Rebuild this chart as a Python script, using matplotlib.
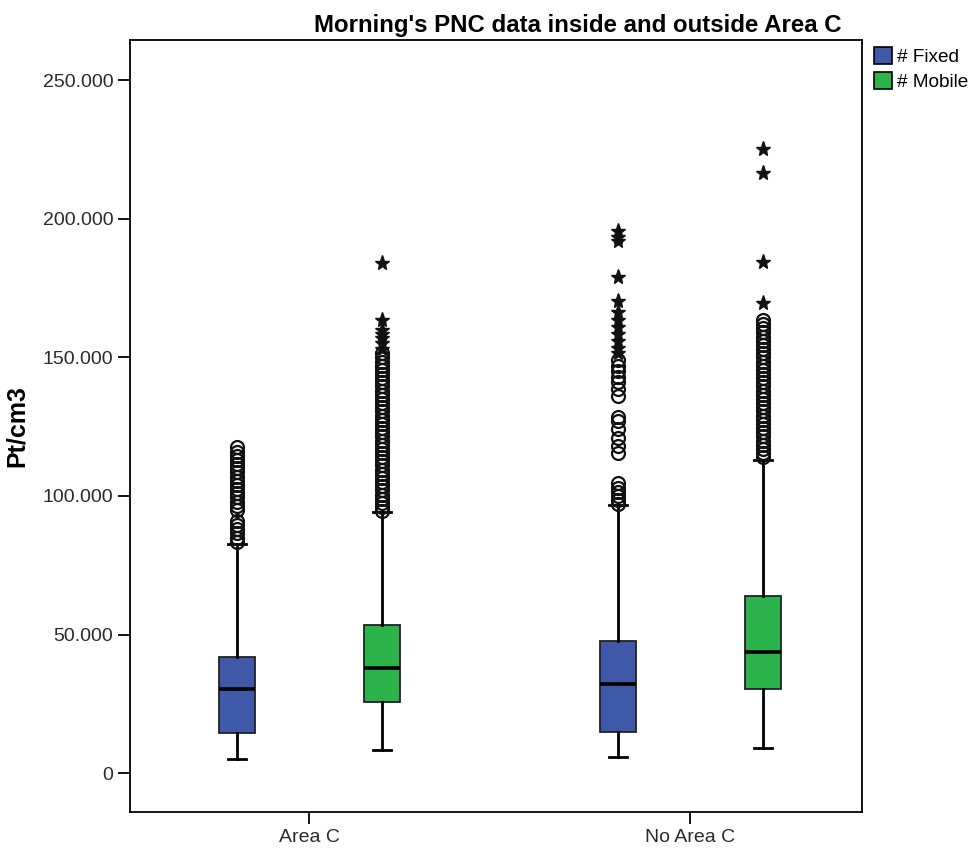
import matplotlib.pyplot as plt
from matplotlib.ticker import FuncFormatter
from matplotlib.patches import Patch

plt.rcParams['font.family'] = ['Liberation Sans', 'DejaVu Sans']

groups = ['Area C', 'No Area C']
series = ['# Fixed', '# Mobile']
colors = ['#3F58A8', '#2DB34B']

# box stats per (group, series): whislo, q1, med, q3, whishi
fixed_stats = [
    (5000, 14400, 30300, 41900, 82600),
    (5800, 14800, 32100, 47600, 96700),
]
mobile_stats = [
    (8300, 25600, 37900, 53400, 94200),
    (9000, 30300, 43600, 63900, 112900),
]

# outliers (circles) and extremes (stars)
fixed_circles = [
    [83500, 85000, 86500, 88000, 89500, 91000, 95000, 96500, 98000, 99500,
     101000, 102500, 104000, 105500, 107000, 108500, 110000, 111500, 113000,
     114500, 116000, 117500],
    [97000, 98500, 100000, 101500, 103000, 104500, 115500, 118000, 121000,
     124000, 127000, 128500, 136000, 138500, 141000, 143000, 145000, 147000,
     149000],
]
fixed_stars = [
    [],
    [151500, 153500, 156000, 158500, 161000, 163500, 166500, 170500, 179000,
     192000, 193500, 195500],
]
mobile_circles = [
    [94500, 96000, 97500, 99000, 100500, 102000, 103500, 105000, 106500,
     108000, 109500, 111000, 112500, 114000, 115500, 117000, 118500, 120000,
     121500, 123000, 124500, 126000, 127500, 129000, 130500, 132000, 133500,
     135000, 136500, 138000, 139500, 141000, 142500, 144000, 145500, 147000,
     148500, 150000, 151500],
    [114000, 115500, 117000, 118500, 120000, 121500, 123000, 124500, 126000,
     127500, 129000, 130500, 132000, 133500, 135000, 136500, 138000, 139500,
     141000, 142500, 144000, 145500, 147000, 148500, 150000, 151500, 153000,
     154500, 156000, 157500, 159000, 160500, 162000, 163500],
]
mobile_stars = [
    [153000, 155000, 157000, 158500, 160000, 163500, 184000],
    [169500, 184500, 216500, 225000],
]

yticks = [0, 50000, 100000, 150000, 200000, 250000]

fig = plt.figure(figsize=(9.75, 8.5), dpi=100)
ax = fig.add_axes([0.1333, 0.0447, 0.751, 0.908])

offset = 0.19
width = 0.095
all_stats = [fixed_stats, mobile_stats]
all_circles = [fixed_circles, mobile_circles]
all_stars = [fixed_stars, mobile_stars]

for s in range(2):
    stats = []
    positions = []
    for g in range(2):
        lo, q1, med, q3, hi = all_stats[s][g]
        stats.append(dict(whislo=lo, q1=q1, med=med, q3=q3, whishi=hi, fliers=[]))
        positions.append(g + 1 + (offset if s == 1 else -offset))
    ax.bxp(stats, positions=positions, widths=width, patch_artist=True,
           showfliers=False, manage_ticks=False,
           boxprops=dict(facecolor=colors[s], edgecolor='#222222', linewidth=1.3),
           medianprops=dict(color='black', linewidth=2.6),
           whiskerprops=dict(color='black', linewidth=2),
           capprops=dict(color='black', linewidth=2),
           capwidths=width * 0.5)
    for g in range(2):
        x = positions[g]
        circ = all_circles[s][g]
        ax.plot([x] * len(circ), circ, 'o', mfc='none', mec='#111111',
                ms=9.3, mew=1.6, zorder=3)
        star = all_stars[s][g]
        ax.plot([x] * len(star), star, '*', color='#111111', ms=11, zorder=3)

ax.set_xlim(0.529, 2.451)
ax.set_ylim(-14000, 264400)
ax.set_xticks([1, 2])
ax.set_xticklabels(groups, fontsize=13.6)
ax.set_yticks(yticks)
ax.yaxis.set_major_formatter(FuncFormatter(lambda v, p: f'{int(v):,}'.replace(',', '.') if v else '0'))
ax.tick_params(axis='both', length=8.5, width=1.3, labelsize=14, colors='black')
ax.tick_params(axis='both', labelcolor='#2a2a2a')
for sp in ax.spines.values():
    sp.set_linewidth(1.3)
ax.set_ylabel('Pt/cm3', fontsize=18, fontweight='bold', labelpad=10)

fig.text(578 / 975, 1 - 32 / 850, "Morning's PNC data inside and outside Area C",
         ha='center', va='baseline', fontsize=17.3, fontweight='bold')

handles = [Patch(facecolor=c, edgecolor='black', linewidth=1.2) for c in colors]
fig.legend(handles, series, loc='upper left', bbox_to_anchor=(874 / 975, 1 - 47 / 850),
           frameon=False, fontsize=13.7, handlelength=0.95, handleheight=1.0,
           handletextpad=0.25, labelspacing=0.3, borderpad=0, borderaxespad=0)

fig.savefig('out.png')
